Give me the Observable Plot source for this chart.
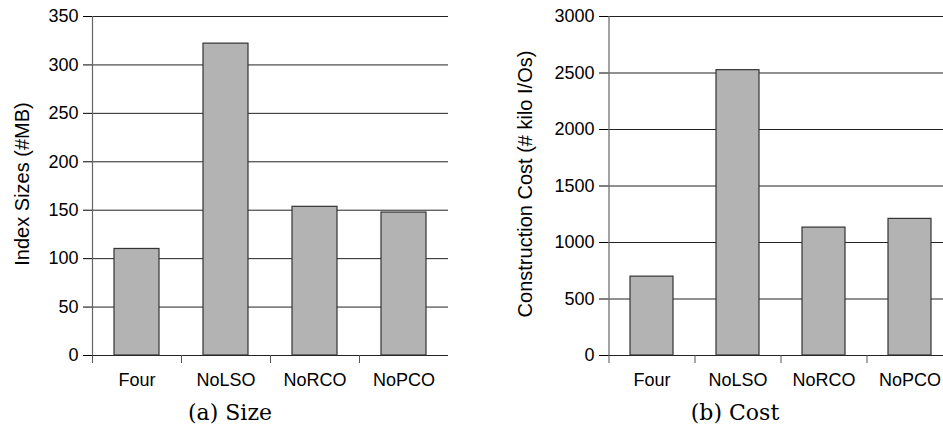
<!DOCTYPE html>
<html><head><meta charset="utf-8">
<script src="https://cdn.jsdelivr.net/npm/d3@7"></script>
<script src="https://cdn.jsdelivr.net/npm/@observablehq/plot@0.6"></script>
<style>
html,body{margin:0;padding:0;background:#fff;overflow:hidden}
#wrap{position:relative;width:943px;height:427px;overflow:hidden}
.panel{position:absolute;top:0}
.panel text{font-family:"Liberation Sans",Arial,sans-serif}
.cap{position:absolute;font-family:"DejaVu Serif",serif;font-size:22px;transform:translate(-50%,-50%);white-space:nowrap;color:#000}
</style></head><body><div id="wrap"></div>
<script>
const categories = ["Four", "NoLSO", "NoRCO", "NoPCO"];
const sizeValues = [110, 322, 153.5, 147.6];
const costValues = [698, 2525, 1132, 1209];
const sizeTicks = [0, 50, 100, 150, 200, 250, 300, 350];
const costTicks = [0, 500, 1000, 1500, 2000, 2500, 3000];
const sizeLabel = "Index Sizes (#MB)";
const costLabel = "Construction Cost (# kilo I/Os)";
const captions = ["(a) Size", "(b) Cost"];

const wrap = document.getElementById("wrap");
const FS = 18, LFS = 20;

function panel({values, ticks, label, left, width, marginLeft, marginRight, labelDx, caption, captionX}) {
  const data = categories.map((c, i) => ({cat: c, v: values[i]}));
  const marginTop = 16, marginBottom = 72, height = 427;
  const step = (width - marginLeft - marginRight) / categories.length;
  const svg = Plot.plot({
    width, height, marginLeft, marginRight, marginTop, marginBottom,
    style: {fontFamily: '"Liberation Sans", Arial, sans-serif', fontSize: FS + "px", color: "#000", background: "transparent", overflow: "visible"},
    x: {domain: categories, paddingInner: 0.5, paddingOuter: 0.25, axis: null},
    y: {domain: [ticks[0], ticks[ticks.length - 1]], axis: null},
    marks: [
      Plot.gridY(ticks, {stroke: "#222", strokeOpacity: 1}),
      Plot.axisY(ticks, {tickSize: 9, tickPadding: 5, label: null, fontSize: FS, tickFormat: d3.format("d")}),
      Plot.barY(data, {x: "cat", y: "v", fill: "#b3b3b3", stroke: "#333", strokeWidth: 1.2}),
      Plot.ruleX(categories, {x: d => d, y1: 0, y2: 0, insetBottom: -8, dx: -step / 2, stroke: "#555"}),
      Plot.ruleX(categories.slice(0, 1), {x: d => d, dx: -step / 2, stroke: "#666", strokeWidth: 1.2}),
      Plot.axisX({tickSize: 0, tickPadding: 18, label: null, fontSize: FS}),
      Plot.text([label], {text: d => d, frameAnchor: "left", rotate: -90, dx: labelDx, dy: -2, textAnchor: "middle", fontSize: LFS, fill: "#000"})
    ]
  });
  svg.classList.add("panel");
  svg.style.left = left + "px";
  svg.style.width = width + "px";
  svg.style.height = height + "px";
  svg.style.maxWidth = "none";
  wrap.appendChild(svg);
  const cap = document.createElement("div");
  cap.className = "cap";
  cap.textContent = caption;
  cap.style.left = captionX + "px";
  cap.style.top = "412px";
  wrap.appendChild(cap);
}

panel({values: sizeValues, ticks: sizeTicks, label: sizeLabel, left: 0, width: 470, marginLeft: 92, marginRight: 22, labelDx: -70, caption: captions[0], captionX: 230});
panel({values: costValues, ticks: costTicks, label: costLabel, left: 470, width: 482, marginLeft: 138, marginRight: 0, labelDx: -83, caption: captions[1], captionX: 735});
</script>
</body></html>
